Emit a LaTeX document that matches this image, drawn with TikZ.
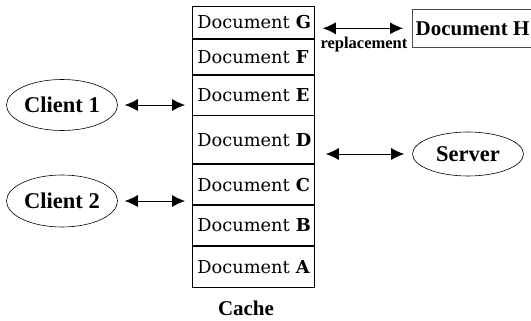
\documentclass[tikz,border=0pt]{standalone}
\usepackage{fontspec}
\setmainfont{Liberation Serif}
\newfontfamily\docfont{DejaVu Serif}
\usetikzlibrary{positioning,shapes.geometric,arrows.meta}

\tikzset{
  doc/.style={draw, rectangle, line width=0.8pt, minimum width=122pt, text width=118pt,
    inner xsep=2pt, inner ysep=0pt, align=left, font=\docfont\fontsize{17.8}{19}\selectfont},
  host/.style={draw, ellipse, line width=0.6pt, minimum width=111pt, inner sep=0pt,
    font=\bfseries\fontsize{22.5}{24}\selectfont},
  link/.style={arrows={Latex[length=13pt,width=12pt]-Latex[length=13pt,width=12pt]}, line width=0.8pt},
}

\begin{document}
\begin{tikzpicture}[x=1pt, y=-1pt]

            \useasboundingbox (0,0) rectangle (531,321);

            % the cache, top to bottom
            \node[doc, minimum height=32pt, anchor=north west] (docG) at (192,6) {\hspace*{3pt}Document \textbf{G}};
            \node[doc, minimum height=35pt, below=0pt of docG] (docF) {\hspace*{3pt}Document \textbf{F}};
            \node[doc, minimum height=40pt, below=0pt of docF] (docE) {\hspace*{3pt}Document \textbf{E}};
            \node[doc, minimum height=48pt, below=0pt of docE] (docD) {\hspace*{3pt}Document \textbf{D}};
            \node[doc, minimum height=40pt, below=0pt of docD] (docC) {\hspace*{3pt}Document \textbf{C}};
            \node[doc, minimum height=40pt, below=0pt of docC] (docB) {\hspace*{3pt}Document \textbf{B}};
            \node[doc, minimum height=41pt, below=0pt of docB] (docA) {\hspace*{3pt}Document \textbf{A}};
            \node[font=\bfseries\fontsize{21}{23}\selectfont] (cache) at (246,308) {Cache};

            \node[host, minimum height=51pt] (client1) at (62,105) {Client 1};
            \node[host, minimum height=52pt] (client2) at (62,201) {Client 2};
            \node[host, minimum height=44pt] (server) at (468,154) {Server};

            \node[draw=black!70, line width=0.6pt, minimum width=119pt, minimum height=38pt,
              anchor=north west, font=\bfseries\fontsize{21}{23}\selectfont] (docH) at (412,9) {Document H};
            \node[font=\bfseries\fontsize{16.5}{18}\selectfont] (repl) at (364,45) {replacement};

            \draw[link, shorten <=7pt, shorten >=7pt] (client1) -- (client1 -| docE.west);
            \draw[link, shorten <=7pt, shorten >=7pt] (client2) -- (client2 -| docC.west);
            \draw[link, shorten <=8pt, shorten >=11pt] (server) -- (server -| docD.east);
            \draw[link, shorten <=9pt, shorten >=8pt] (docH) -- (docH -| docG.east);

        \end{tikzpicture}
\end{document}
